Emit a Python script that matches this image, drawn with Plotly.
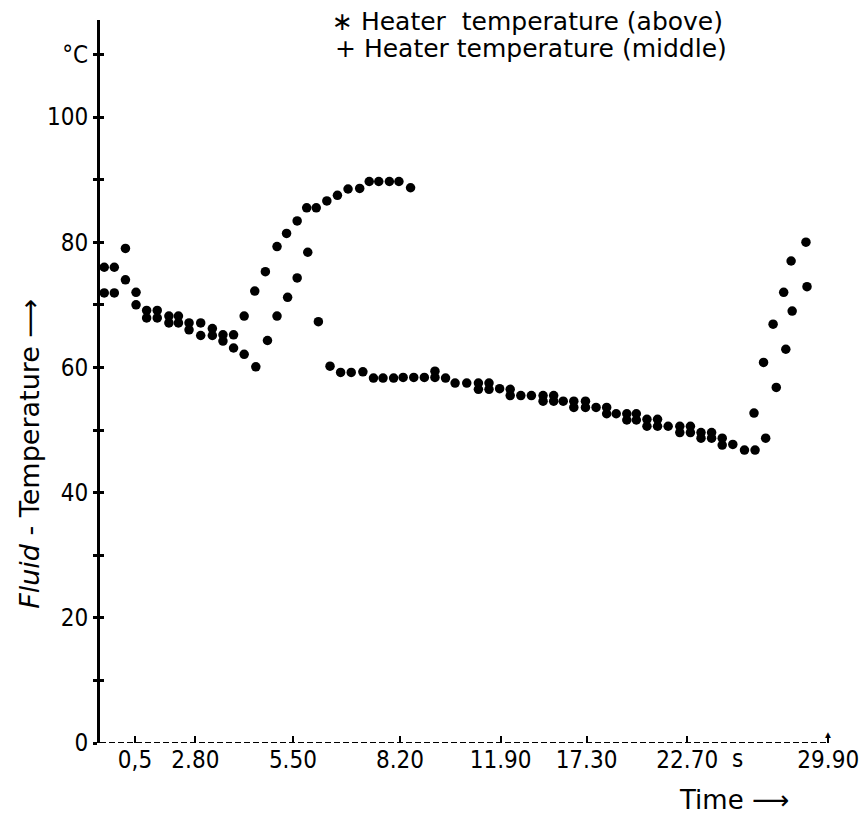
import plotly.graph_objects as go

# ---- data (x = position along the time axis, in sample steps; y = temperature in °C)
above_x = [0.4, 1.35, 2.4, 3.4, 4.4, 5.4, 6.5, 7.4, 8.4, 9.5, 10.6, 11.6, 12.6,
           13.6, 14.6, 15.6, 16.7, 17.6, 18.6, 19.5, 20.4, 21.4, 22.4, 23.4, 24.5,
           25.4, 26.3, 27.3, 28.2, 29.3,
           31.6, 35.7, 36.7, 38.7, 41.8, 42.8, 44.7, 45.8, 47.8, 49.7, 50.6, 51.6,
           52.6, 54.7, 55.7, 56.7, 57.7, 58.7,
           61.7, 62.6, 63.5, 64.5, 65.2, 66.6]
above_y = [76, 76, 79, 72, 69.1, 69.1, 68.2, 68.2, 67.1, 67.1, 66.2, 65.2, 65.2,
           68.2, 72.2, 75.3, 79.3, 81.4, 83.4, 85.5, 85.5, 86.6, 87.5, 88.5, 88.6,
           89.7, 89.7, 89.7, 89.7, 88.7,
           59.4, 57.5, 57.5, 56.5, 55.5, 55.5, 54.6, 54.6, 53.6, 52.6, 52.6, 51.7,
           51.7, 50.6, 50.6, 49.6, 49.6, 48.7,
           52.7, 60.8, 66.9, 72.0, 77.0, 80.0]

middle_x = [0.4, 1.35, 2.4, 3.4, 4.4, 5.4, 6.5, 7.4, 8.4, 9.5, 10.6, 11.6, 12.6,
            13.6, 14.7, 15.8, 16.7, 17.7, 18.6, 19.6, 20.6, 21.7, 22.7, 23.7, 24.8,
            25.8, 26.7, 27.7, 28.6, 29.6, 30.6, 31.6, 32.6, 33.5, 34.6, 35.7, 36.7,
            37.7, 38.7, 39.7, 40.7, 41.8, 42.8, 43.7, 44.7, 45.8, 46.8, 47.8, 48.7,
            49.7, 50.6, 51.6, 52.6, 53.6, 54.7, 55.7, 56.7, 57.7, 58.7, 59.7, 60.8,
            61.8, 62.8, 63.8, 64.7, 65.3, 66.7]
middle_y = [71.9, 71.9, 74.0, 70.0, 67.9, 67.9, 67.1, 67.1, 66.0, 65.1, 65.1, 64.2, 63.1,
            62.1, 60.1, 64.3, 68.2, 71.2, 74.3, 78.4, 67.3, 60.2, 59.2, 59.2, 59.3,
            58.3, 58.3, 58.3, 58.4, 58.4, 58.4, 58.4, 58.3, 57.5, 57.5, 56.5, 56.5,
            56.6, 55.5, 55.5, 55.5, 54.6, 54.6, 54.6, 53.6, 53.6, 53.6, 52.6, 52.6,
            51.6, 51.6, 50.6, 50.6, 50.6, 49.6, 49.6, 48.7, 48.7, 47.6, 47.7, 46.8,
            46.8, 48.7, 56.8, 62.9, 69.0, 72.9]

time_tick_pos = [3.3, 9.0, 18.2, 28.3, 37.8, 45.9, 55.4, 68.7]
time_tick_labels = ["0,5", "2.80", "5.50", "8.20", "11.90", "17.30", "22.70", "29.90"]

temp_tick_vals = [0, 10, 20, 30, 40, 50, 60, 70, 80, 90, 100, 110]
temp_tick_labels = ["0", "", "20", "", "40", "", "60", "", "80", "", "100", "°C"]

legend_above = "∗ Heater  temperature (above)"
legend_middle = "+ Heater temperature (middle)"

# ---- figure
TICKFONT = dict(family="DejaVu Sans Condensed, DejaVu Sans, sans-serif",
                size=24, color="black")
TEXTFONT = dict(family="DejaVu Sans, Open Sans, sans-serif", size=25, color="black")

X_MAX = 70.19
Y_MAX = 115.5

fig = go.Figure()
marker = dict(color="black", size=9.5, symbol="circle", line=dict(width=0))
fig.add_trace(go.Scatter(x=above_x, y=above_y, mode="markers", marker=marker,
                         name="Heater temperature (above)", showlegend=False))
fig.add_trace(go.Scatter(x=middle_x, y=middle_y, mode="markers", marker=marker,
                         name="Heater temperature (middle)", showlegend=False))
# invisible trace that activates the second y axis (inside tick marks)
fig.add_trace(go.Scatter(x=[0], y=[0], yaxis="y2", mode="markers",
                         marker=dict(opacity=0), showlegend=False, hoverinfo="skip"))

fig.update_layout(
    width=868, height=822,
    margin=dict(l=92, r=32, t=12, b=87),
    paper_bgcolor="white", plot_bgcolor="white",
    xaxis=dict(range=[0, X_MAX], showgrid=False, zeroline=False, showline=False,
               tickmode="array", tickvals=time_tick_pos, ticktext=time_tick_labels,
               ticks="inside", ticklen=7, tickwidth=2, tickcolor="black",
               tickfont=TICKFONT, automargin=False),
    yaxis=dict(range=[0, Y_MAX], showgrid=False, zeroline=False,
               showline=True, linecolor="black", linewidth=3,
               tickmode="array", tickvals=temp_tick_vals, ticktext=temp_tick_labels,
               ticks="outside", ticklen=4, tickwidth=2.5, tickcolor="black",
               tickfont=TICKFONT, automargin=False),
    yaxis2=dict(range=[0, Y_MAX], overlaying="y", side="left", anchor="x",
                showgrid=False, zeroline=False, showline=False,
                tickmode="array", tickvals=temp_tick_vals, showticklabels=False,
                ticks="inside", ticklen=4, tickwidth=2.5, tickcolor="black",
                automargin=False),
)

# dashed time axis
fig.add_shape(type="line", xref="x", yref="y", x0=0, x1=time_tick_pos[-1], y0=0, y1=0,
              line=dict(color="black", width=2, dash="6px,3px"))
fig.add_annotation(x=time_tick_pos[-1], y=0, xref="x", yref="y", text="▲", showarrow=False,
                   yanchor="bottom", font=dict(size=10, color="black"))

# 's' unit marker and axis titles
fig.add_annotation(x=60.1, y=-0.022, xref="x", yref="paper", text="s", showarrow=False,
                   yanchor="middle", font=TICKFONT)
fig.add_annotation(x=0.852, y=-0.079, xref="paper", yref="paper", text="Time ⟶",
                   showarrow=False, xanchor="center", yanchor="middle",
                   font=dict(family="DejaVu Sans, sans-serif", size=26, color="black"))
fig.add_annotation(x=-0.094, y=0.40, xref="paper", yref="paper",
                   text="<i>Fluid</i> - Temperature ⟶", textangle=-90, showarrow=False,
                   xanchor="center", yanchor="middle",
                   font=dict(family="DejaVu Sans, sans-serif", size=27, color="black"))

# legend texts
fig.add_annotation(x=0.309, y=0.998, xref="paper", yref="paper", text=legend_above,
                   showarrow=False, xanchor="left", yanchor="middle", font=TEXTFONT)
fig.add_annotation(x=0.313, y=0.960, xref="paper", yref="paper", text=legend_middle,
                   showarrow=False, xanchor="left", yanchor="middle", font=TEXTFONT)

fig.write_html("out.html")
